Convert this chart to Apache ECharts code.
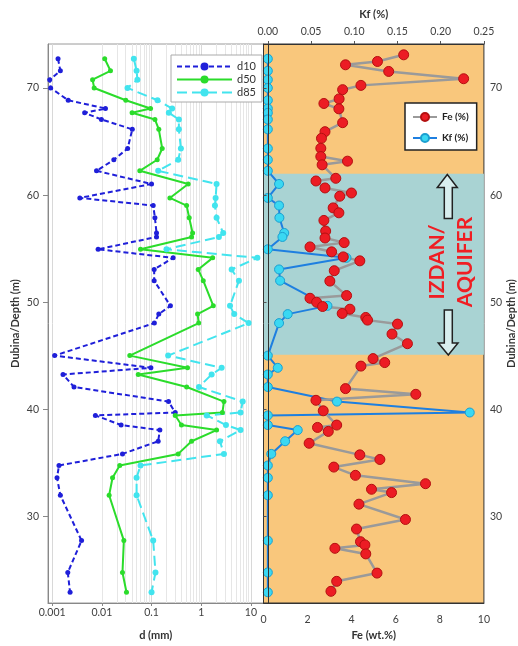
<!DOCTYPE html>
<html>
<head>
<meta charset="utf-8">
<script src="https://cdn.jsdelivr.net/npm/echarts@6/dist/echarts.min.js"></script>
<style>
  html, body { margin: 0; padding: 0; background: #fff; }
  #chart { width: 518px; height: 646px; }
</style>
</head>
<body>
<div id="chart"></div>
<script>
// sample depths shared by the grain size curves and Kf
const depth = [72.72, 71.6, 70.77, 70.0, 68.85, 68.08, 67.68, 67.06, 66.14, 64.35, 63.3, 62.27,
  61.04, 59.74, 59.03, 57.89, 56.47, 56.1, 54.95, 54.15, 53.07, 52.02, 49.67, 48.9, 48.06,
  45.03, 43.89, 43.27, 42.1, 40.74, 39.72, 39.45, 38.55, 38.08, 37.04, 35.86, 34.78, 33.63,
  32.0, 27.77, 24.8, 22.95];

const d10 = [0.00131, 0.00146, 0.00089, 0.00093, 0.0021, 0.0118, 0.0045, 0.0098, 0.041, 0.033, 0.0174, 0.0078,
  0.1, 0.0036, 0.108, 0.117, 0.126, 0.126, 0.0084, 0.272, 0.113, 0.113, 0.24, 0.14, 0.114,
  0.00112, 0.097, 0.00165, 0.00275, 0.22, 0.3, 0.0074, 0.0244, 0.147, 0.136, 0.026, 0.00137, 0.00125,
  0.00146, 0.0039, 0.00206, 0.00229];

const d50 = [0.0114, 0.0149, 0.0065, 0.007, 0.0303, 0.0955, 0.0406, 0.117, 0.14, 0.164, 0.13, 0.058,
  0.547, 0.234, 0.508, 0.573, 0.671, 0.64, 0.06, 1.7, 0.87, 1.1, 1.75, 0.845, 0.89,
  0.0365, 0.53, 0.054, 0.51, 2.87, 2.67, 0.3, 0.4, 2.04, 0.64, 0.344, 0.0229, 0.0164,
  0.014, 0.0277, 0.026, 0.0313];

const d85 = [0.044, 0.05, 0.052, 0.0328, 0.132, 0.26, 0.223, 0.355, 0.355, 0.39, 0.344, 0.136,
  2.04, 1.95, 1.89, 2.04, 2.77, 2.27, 0.2, 13.5, 4.1, 5.75, 3.8, 4.62, 9.0,
  0.216, 2.58, 1.62, 0.9, 6.84, 6.2, 1.29, 3.15, 6.2, 2.38, 2.87, 0.06, 0.05,
  0.05, 0.108, 0.12, 0.1];

const kf = [0, 0, 0, 0, 0, 0, 0, 0, 0, 0, 0, 0,
  0.013, 0, 0.013, 0.0134, 0.019, 0.0169, 0, 0.091, 0.013, 0.0142, 0.069, 0.023, 0.013,
  0, 0.0115, 0, 0, 0.08, 0.2336, 0, 0, 0.0346, 0.02, 0.004, 0, 0,
  0, 0, 0, 0];

// Fe has its own sampling
const feDepth = [73.09, 72.47, 72.16, 71.54, 70.86, 70.24, 69.84, 68.98, 68.55, 68.05, 66.76, 65.92,
  65.3, 64.37, 63.6, 63.17, 62.83, 61.57, 61.32, 60.67, 60.2, 59.9, 58.81, 58.35, 57.64,
  56.65, 56.0, 55.57, 55.17, 54.71, 54.24, 53.87, 52.95, 51.98, 50.63, 50.38, 50.01, 49.61,
  49.36, 48.96, 48.59, 48.34, 47.97, 47.04, 46.14, 44.75, 44.38, 44.05, 41.95, 41.42, 40.86,
  39.88, 38.55, 38.33, 37.96, 36.85, 35.77, 35.34, 34.63, 33.86, 33.08, 32.56, 32.25, 31.17,
  29.74, 28.85, 27.67, 27.37, 27.05, 26.53, 24.74, 23.97, 23.04];

const fe = [6.36, 5.17, 3.72, 5.68, 9.08, 4.42, 3.59, 3.43, 2.74, 3.42, 3.59, 2.79,
  2.63, 2.6, 2.6, 3.81, 2.66, 3.28, 2.38, 2.79, 3.99, 3.46, 3.16, 3.42, 2.74,
  2.82, 2.79, 3.66, 2.11, 3.09, 3.62, 4.37, 3.21, 3.01, 3.77, 2.11, 2.41, 2.68,
  3.92, 3.57, 4.64, 4.72, 6.08, 5.83, 6.53, 4.97, 5.5, 4.42, 3.72, 6.91, 2.38,
  2.71, 3.32, 2.45, 2.94, 2.07, 4.37, 5.28, 3.19, 4.17, 7.35, 4.9, 5.81, 4.33,
  6.44, 4.22, 4.4, 4.6, 3.24, 4.64, 5.15, 3.32, 3.06];

// aquifer band (depth, m)
const aquifer = [45.1, 62.0];

// minor log gridlines of the grain size panel
const minorGrid = [0.002, 0.003, 0.004, 0.005, 0.006, 0.007, 0.008, 0.009,
  0.02, 0.03, 0.04, 0.05, 0.06, 0.07, 0.08, 0.09,
  0.2, 0.3, 0.4, 0.5, 0.6, 0.7, 0.8, 0.9,
  2, 3, 4, 5, 6, 7, 8, 9];

const pair = (xs, ys) => xs.map((x, i) => [x, ys[i]]);

const FONT = 'Lato';
const lbl = { fontFamily: FONT, fontSize: 10.5, color: '#404040' };
const nameStyle = { fontFamily: FONT, fontSize: 11, fontWeight: 'bold', color: '#333' };
const depthMin = 21.95, depthMax = 74.1;

const chart = echarts.init(document.getElementById('chart'));

chart.setOption({
  animation: false,
  grid: [
    { left: 48, top: 44, width: 215.5, height: 563, show: true,
      backgroundColor: '#fff', borderColor: '#9a9a9a', borderWidth: 1 },
    { left: 263.5, top: 44, width: 221, height: 563, show: true,
      backgroundColor: '#f9c77c', borderColor: '#333', borderWidth: 1 },
  ],
  legend: [
    {
      data: ['d10', 'd50', 'd85'],
      orient: 'vertical', left: 171, top: 55, z: 6,
      padding: [6, 6, 4, 5], itemGap: 2, itemWidth: 55, itemHeight: 10,
      backgroundColor: '#fff', borderColor: '#aaa', borderWidth: 1,
      textStyle: { fontFamily: FONT, fontSize: 11, color: '#333' },
      selectedMode: false,
    },
    {
      data: ['Fe (%)', 'Kf (%)'],
      orient: 'vertical', left: 405, top: 103, z: 6,
      padding: [9, 8, 7, 7], itemGap: 11, itemWidth: 24, itemHeight: 10,
      backgroundColor: '#fff', borderColor: '#222', borderWidth: 1.5,
      textStyle: { fontFamily: FONT, fontSize: 10, fontWeight: 'bold', color: '#222' },
      selectedMode: false,
    },
  ],
  xAxis: [
    {
      type: 'log', logBase: 10, gridIndex: 0, min: 0.000823, max: 17.95,
      name: 'd (mm)', nameLocation: 'middle', nameGap: 27, nameTextStyle: nameStyle,
      axisLine: { lineStyle: { color: '#888' } },
      axisTick: { length: 3, lineStyle: { color: '#888' } },
      axisLabel: { ...lbl, margin: 4, showMinLabel: false, showMaxLabel: false },
      splitLine: { show: true, lineStyle: { color: '#d8d8d8', width: 1 } },
    },
    {
      type: 'value', gridIndex: 1, position: 'bottom', min: 0, max: 10, interval: 2, z: 5,
      name: 'Fe (wt.%)', nameLocation: 'middle', nameGap: 27, nameTextStyle: nameStyle,
      axisLine: { lineStyle: { color: '#333' } },
      axisTick: { show: false },
      axisLabel: { ...lbl, margin: 11 },
      splitLine: { show: false },
    },
    {
      type: 'value', gridIndex: 1, position: 'top', min: -0.005, max: 0.25, z: 5,
      name: 'Kf (%)', nameLocation: 'middle', nameGap: 24, nameTextStyle: nameStyle,
      axisLine: { lineStyle: { color: '#333' } },
      axisTick: { length: 3, lineStyle: { color: '#555' } },
      axisLabel: { ...lbl, margin: 7, showMinLabel: false, formatter: (v) => v.toFixed(2) },
      splitLine: { show: false },
    },
  ],
  yAxis: [
    {
      type: 'value', gridIndex: 0, position: 'left', min: depthMin, max: depthMax,
      name: 'Dubina/Depth (m)', nameLocation: 'middle', nameGap: 27, nameTextStyle: nameStyle,
      axisLine: { show: true, lineStyle: { color: '#888' } },
      axisTick: { show: true, length: 5, lineStyle: { color: '#888' } },
      axisLabel: { ...lbl, margin: 9, showMinLabel: false, showMaxLabel: false },
      splitLine: { show: false },
    },
    {
      type: 'value', gridIndex: 1, position: 'right', min: depthMin, max: depthMax, z: 5,
      name: 'Dubina/Depth (m)', nameLocation: 'middle', nameGap: 20, nameTextStyle: nameStyle,
      axisLine: { show: true, lineStyle: { color: '#333' } },
      axisTick: { show: true, length: 3, lineStyle: { color: '#555' } },
      axisLabel: { ...lbl, margin: 6, showMinLabel: false, showMaxLabel: false },
      splitLine: { show: false },
    },
    {
      type: 'value', gridIndex: 1, position: 'left', min: depthMin, max: depthMax, z: 5,
      axisLine: { show: true, lineStyle: { color: '#333' } },
      axisTick: { show: false }, axisLabel: { show: false }, splitLine: { show: false },
    },
  ],
  series: [
    {
      type: 'line', xAxisIndex: 0, yAxisIndex: 0, data: [], silent: true, z: 1,
      markLine: {
        z: 1, silent: true, symbol: ['none', 'none'], label: { show: false },
        lineStyle: { color: '#e6e6e6', width: 1, type: 'solid' },
        emphasis: { disabled: true },
        data: minorGrid.map((v) => ({ xAxis: v })),
      },
    },
    {
      type: 'line', xAxisIndex: 1, yAxisIndex: 1, data: [], silent: true, z: 1,
      markArea: {
        z: 1, silent: true, itemStyle: { color: '#a9d3d3' },
        data: [[{ yAxis: aquifer[0] }, { yAxis: aquifer[1] }]],
      },
    },
    {
      name: 'd10', type: 'line', xAxisIndex: 0, yAxisIndex: 0, data: pair(d10, depth),
      symbol: 'circle', symbolSize: 5,
      itemStyle: { color: '#1f1fd9' },
      lineStyle: { color: '#1f1fd9', width: 2, type: [5, 3] },
    },
    {
      name: 'd50', type: 'line', xAxisIndex: 0, yAxisIndex: 0, data: pair(d50, depth),
      symbol: 'circle', symbolSize: 5,
      itemStyle: { color: '#2bdc2b' },
      lineStyle: { color: '#2bdc2b', width: 2 },
    },
    {
      name: 'd85', type: 'line', xAxisIndex: 0, yAxisIndex: 0, data: pair(d85, depth),
      symbol: 'circle', symbolSize: 6,
      itemStyle: { color: '#42e4ee' },
      lineStyle: { color: '#42e4ee', width: 2, type: [10, 5] },
    },
    {
      name: 'Kf (%)', type: 'line', xAxisIndex: 2, yAxisIndex: 1, data: pair(kf, depth),
      symbol: 'circle', symbolSize: 9,
      itemStyle: { color: '#3ad8f2', borderColor: '#1c9fd0', borderWidth: 1 },
      lineStyle: { color: '#1e7fe0', width: 2 },
    },
    {
      name: 'Fe (%)', type: 'line', xAxisIndex: 1, yAxisIndex: 1, data: pair(fe, feDepth),
      symbol: 'circle', symbolSize: 10,
      itemStyle: { color: '#ec1c24', borderColor: '#b41010', borderWidth: 1 },
      lineStyle: { color: '#9a9a9a', width: 2.5 },
    },
  ],
  graphic: [
    {
      type: 'polygon', z: 10,
      shape: { points: [[447.3, 174.5], [457.3, 187.5], [452.3, 187.5], [452.3, 218.5],
        [444.3, 218.5], [444.3, 187.5], [437.3, 187.5]] },
      style: { fill: '#d8eeee', stroke: '#222', lineWidth: 1.5 },
    },
    {
      type: 'polygon', z: 10,
      shape: { points: [[444.3, 310], [452.3, 310], [452.3, 343], [458, 343],
        [448.3, 355], [438.3, 343], [444.3, 343]] },
      style: { fill: '#d8eeee', stroke: '#222', lineWidth: 1.5 },
    },
    {
      type: 'text', x: 437, y: 262, rotation: Math.PI / 2, z: 10,
      style: { text: 'IZDAN/', fill: '#f01e23', fontFamily: FONT, fontSize: 21,
        fontWeight: 'bold', align: 'center', verticalAlign: 'middle' },
    },
    {
      type: 'text', x: 465, y: 262, rotation: Math.PI / 2, z: 10,
      style: { text: 'AQUIFER', fill: '#f01e23', fontFamily: FONT, fontSize: 21,
        fontWeight: 'bold', align: 'center', verticalAlign: 'middle' },
    },
  ],
});
</script>
</body>
</html>
